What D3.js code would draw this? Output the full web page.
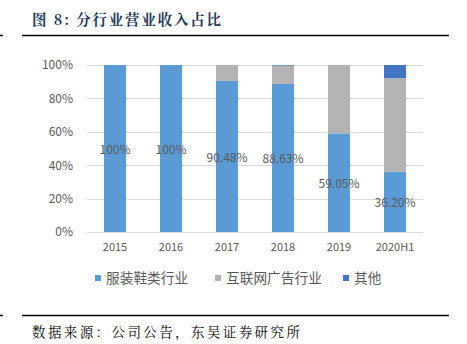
<!DOCTYPE html>
<html><head><meta charset="utf-8">
<script src="https://cdn.jsdelivr.net/npm/d3@7/dist/d3.min.js"></script>
<style>body{margin:0;background:#fff;}svg{display:block;}</style>
</head><body>
<svg id="c" width="467" height="344"></svg>
<script>
const categories = ["2015","2016","2017","2018","2019","2020H1"];
const seriesNames = ["服装鞋类行业","互联网广告行业","其他"];
const apparel = [100, 100, 90.48, 88.63, 59.05, 36.20];
const internetAds = [0, 0, 9.52, 10.97, 40.95, 55.90];
const other = [0, 0, 0, 0.40, 0, 7.90];
const yTicks = [0, 20, 40, 60, 80, 100];
const colors = ["#5B9BD5", "#B3B3B3", "#4472C4"];

const svg = d3.select("#c");
const serif = "'Noto Serif CJK SC','Noto Sans CJK SC',serif";
const sans = "'Noto Sans CJK SC','Noto Sans',sans-serif";

// title
svg.append("text").attr("x", 32).attr("y", 25).attr("font-family", serif)
  .attr("font-weight", "bold").attr("font-size", 14.5).attr("letter-spacing", 1.8).attr("fill", "#1F3A5F")
  .text("图 8:  分行业营业收入占比");
svg.append("line").attr("x1", 22).attr("x2", 449).attr("y1", 35.5).attr("y2", 35.5)
  .attr("stroke", "#000").attr("stroke-width", 1.5);
svg.append("line").attr("x1", 0).attr("x2", 3).attr("y1", 35.5).attr("y2", 35.5)
  .attr("stroke", "#000").attr("stroke-width", 1.5);

const x = d3.scaleBand().domain(categories).range([87, 423]).paddingInner(0.607).paddingOuter(0.3035);
const y = d3.scaleLinear().domain([0, 100]).range([232, 65]);

// grid
svg.append("g").selectAll("line").data(yTicks).join("line")
  .attr("x1", 87).attr("x2", 423).attr("y1", d => Math.round(y(d)) + 0.5).attr("y2", d => Math.round(y(d)) + 0.5)
  .attr("stroke", "#D9D9D9").attr("stroke-width", 1);

// y axis labels
const yAxis = d3.axisLeft(y).tickValues(yTicks).tickFormat(d => d + "%").tickSize(0).tickPadding(14);
const gy = svg.append("g").attr("transform", "translate(87,0)").call(yAxis);
gy.select(".domain").remove();
gy.selectAll("text").attr("font-family", sans).attr("font-size", 12).attr("fill", "#595959");

// x axis labels
const xAxis = d3.axisBottom(x).tickSize(0).tickPadding(11);
const gx = svg.append("g").attr("transform", "translate(0,232)").call(xAxis);
gx.select(".domain").remove();
gx.selectAll("text").attr("font-family", sans).attr("font-size", 11).attr("fill", "#595959");

// stacked bars
const rows = categories.map((c, i) => ({cat: c, s0: apparel[i], s1: internetAds[i], s2: other[i]}));
const stack = d3.stack().keys(["s0", "s1", "s2"])(rows);
svg.append("g").selectAll("g").data(stack).join("g").attr("fill", (d, i) => colors[i])
  .selectAll("rect").data(d => d).join("rect")
  .attr("x", d => x(d.data.cat)).attr("width", x.bandwidth())
  .attr("y", d => y(d[1])).attr("height", d => Math.max(0, y(d[0]) - y(d[1])));

// data labels
svg.append("g").selectAll("text").data(rows).join("text")
  .attr("x", d => x(d.cat) + x.bandwidth() / 2)
  .attr("y", d => y(d.s0 / 2) + 1).attr("dy", "0.35em")
  .attr("text-anchor", "middle").attr("font-family", sans).attr("font-size", 12).attr("fill", "#595959")
  .text(d => d.s0 === 100 ? "100%" : d.s0.toFixed(2) + "%");

// legend
const legendX = [95, 215, 343];
const lg = svg.append("g").selectAll("g").data(seriesNames).join("g")
  .attr("transform", (d, i) => `translate(${legendX[i]},278)`);
lg.append("rect").attr("x", 0).attr("y", -3).attr("width", 6).attr("height", 6).attr("fill", (d, i) => colors[i]);
lg.append("text").attr("x", 11).attr("y", 0).attr("dy", "0.35em").attr("font-family", sans)
  .attr("font-size", 13.7).attr("fill", "#595959").text(d => d);

// bottom rule & source
svg.append("line").attr("x1", 22).attr("x2", 449).attr("y1", 315.5).attr("y2", 315.5)
  .attr("stroke", "#000").attr("stroke-width", 1.5);
svg.append("line").attr("x1", 0).attr("x2", 3).attr("y1", 315.5).attr("y2", 315.5)
  .attr("stroke", "#000").attr("stroke-width", 1.5);
svg.append("text").attr("x", 32).attr("y", 337).attr("font-family", serif)
  .attr("font-size", 13.5).attr("letter-spacing", 2.4).attr("fill", "#000").text("数据来源：公司公告，东吴证券研究所");
</script>
</body></html>
